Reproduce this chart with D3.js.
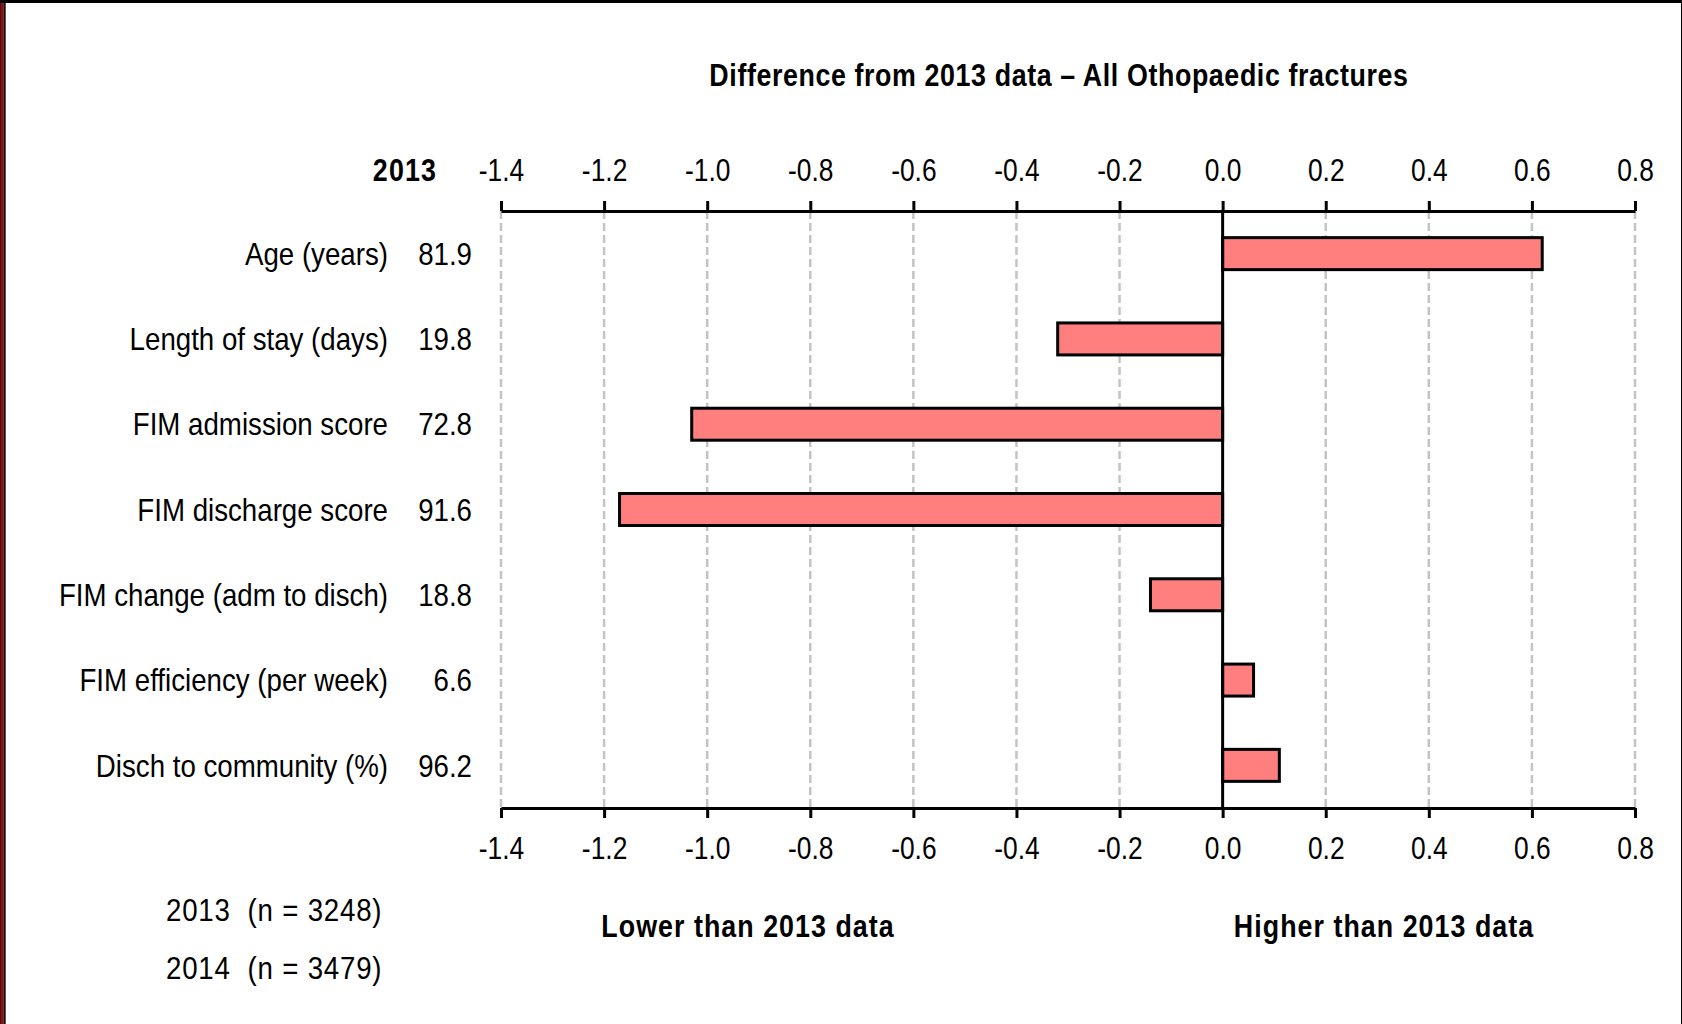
<!DOCTYPE html>
<html>
<head>
<meta charset="utf-8">
<script src="https://cdn.jsdelivr.net/npm/d3@7"></script>
<style>
	body { margin: 0; background: #fff; }
	svg { display: block; }
	text { font-family: "Liberation Sans", Arial, sans-serif; fill: #000; }
</style>
</head>
<body>
<div id="chart"></div>
<script>
var width = 1682, height = 1024

// rows of the chart, top to bottom
const categories = ["Age (years)", "Length of stay (days)", "FIM admission score", "FIM discharge score",
	"FIM change (adm to disch)", "FIM efficiency (per week)", "Disch to community (%)"]
// 2013 value shown next to each label
const values2013 = ["81.9", "19.8", "72.8", "91.6", "18.8", "6.6", "96.2"]
// difference of 2014 from 2013
const differences = [0.62, -0.32, -1.03, -1.17, -0.14, 0.06, 0.11]
const xTicks = [-1.4, -1.2, -1.0, -0.8, -0.6, -0.4, -0.2, 0.0, 0.2, 0.4, 0.6, 0.8]
const sampleSizes = ["2013  (n = 3248)", "2014  (n = 3479)"]

// narrow face: the regular sans squeezed sideways, as Arial Narrow is
const squeeze = 0.865
const place = (px, py) => `translate(${px},${py}) scale(${squeeze},1)`

const svg = d3.select('#chart')
	.append('svg')
	.attr('width', width)
	.attr('height', height)

// frame round the picture
svg.append("rect").attr("x", 0).attr("y", 0).attr("width", 1).attr("height", height).attr("fill", "#222")
svg.append("rect").attr("x", 1).attr("y", 0).attr("width", 2.3).attr("height", height).attr("fill", "#b00000")
svg.append("rect").attr("x", 3.3).attr("y", 0).attr("width", 2.4).attr("height", height).attr("fill", "#111")
svg.append("rect").attr("x", 0).attr("y", 0).attr("width", width).attr("height", 3).attr("fill", "#000")
svg.append("rect").attr("x", width - 1).attr("y", 0).attr("width", 1).attr("height", height).attr("fill", "#000")

const x = d3.scaleLinear()
	.domain([-1.4, 0.8])
	.range([501, 1635])

const yTop = 211, yBottom = 808

const y = d3.scaleBand()
	.domain(categories)
	.range([yTop, yBottom])
	.paddingInner(0.625)
	.paddingOuter(0.3125)

// dashed gridlines
svg.append("g")
	.selectAll("line")
	.data(xTicks.filter(d => d != 0))
	.join("line")
	.attr("x1", d => x(d))
	.attr("x2", d => x(d))
	.attr("y1", yTop)
	.attr("y2", yBottom)
	.attr("stroke", "#c4c4c4")
	.attr("stroke-width", 2.5)
	.attr("stroke-dasharray", "8,4")

const fmt = d => d.toFixed(1)

const axisTop = d3.axisTop(x).tickValues(xTicks).tickFormat(fmt).tickSize(10).tickPadding(20).tickSizeOuter(0)
const axisBottom = d3.axisBottom(x).tickValues(xTicks).tickFormat(fmt).tickSize(10).tickPadding(19).tickSizeOuter(0)

function styleAxis(g) {
	g.attr("font-family", null).attr("font-size", null)
	g.select(".domain").attr("stroke", "#000").attr("stroke-width", 3)
	g.selectAll(".tick line").attr("stroke", "#000").attr("stroke-width", 3)
	g.selectAll(".tick text")
		.attr("font-size", 30.5)
		.attr("fill", "#000")
		.attr("transform", `scale(${squeeze},1)`)
}

svg.append("g")
	.attr("transform", `translate(0,${yTop})`)
	.call(axisTop)
	.call(styleAxis)

svg.append("g")
	.attr("transform", `translate(0,${yBottom})`)
	.call(axisBottom)
	.call(styleAxis)

// bars
svg.append("g")
	.selectAll("rect")
	.data(differences)
	.join("rect")
	.attr("x", d => x(Math.min(0, d)))
	.attr("width", d => Math.abs(x(d) - x(0)))
	.attr("y", (d, i) => y(categories[i]))
	.attr("height", y.bandwidth())
	.attr("fill", "#ff7f7f")
	.attr("stroke", "#000")
	.attr("stroke-width", 3)

// zero line
svg.append("line")
	.attr("x1", x(0)).attr("x2", x(0))
	.attr("y1", yTop).attr("y2", yBottom)
	.attr("stroke", "#000")
	.attr("stroke-width", 3)

// row labels and 2013 values
svg.append("g")
	.selectAll("text")
	.data(categories)
	.join("text")
	.attr("transform", d => place(388, y(d) + y.bandwidth() / 2))
	.attr("dy", "0.35em")
	.attr("text-anchor", "end")
	.attr("font-size", 32)
	.text(d => d)

svg.append("g")
	.selectAll("text")
	.data(values2013)
	.join("text")
	.attr("transform", (d, i) => place(472, y(categories[i]) + y.bandwidth() / 2))
	.attr("dy", "0.35em")
	.attr("text-anchor", "end")
	.attr("font-size", 32)
	.text(d => d)

svg.append("text")
	.attr("transform", place(437, 170))
	.attr("dy", "0.35em")
	.attr("text-anchor", "end")
	.attr("font-size", 31)
	.attr("font-weight", "bold")
	.attr("letter-spacing", 1.3)
	.text("2013")

// title
svg.append("text")
	.attr("transform", place(1059, 75))
	.attr("dy", "0.35em")
	.attr("text-anchor", "middle")
	.attr("font-size", 31)
	.attr("font-weight", "bold")
	.attr("letter-spacing", 0.7)
	.text("Difference from 2013 data \u2013 All Othopaedic fractures")

// direction notes
svg.append("text")
	.attr("transform", place(748, 926))
	.attr("dy", "0.35em")
	.attr("text-anchor", "middle")
	.attr("font-size", 31)
	.attr("font-weight", "bold")
	.attr("letter-spacing", 1.2)
	.text("Lower than 2013 data")

svg.append("text")
	.attr("transform", place(1384, 926))
	.attr("dy", "0.35em")
	.attr("text-anchor", "middle")
	.attr("font-size", 31)
	.attr("font-weight", "bold")
	.attr("letter-spacing", 1.2)
	.text("Higher than 2013 data")

// sample sizes
svg.append("g")
	.selectAll("text")
	.data(sampleSizes)
	.join("text")
	.attr("transform", (d, i) => place(166, 910 + i * 58))
	.attr("dy", "0.35em")
	.attr("font-size", 32)
	.attr("letter-spacing", 0.9)
	.style("white-space", "pre")
	.text(d => d)
</script>
</body>
</html>
